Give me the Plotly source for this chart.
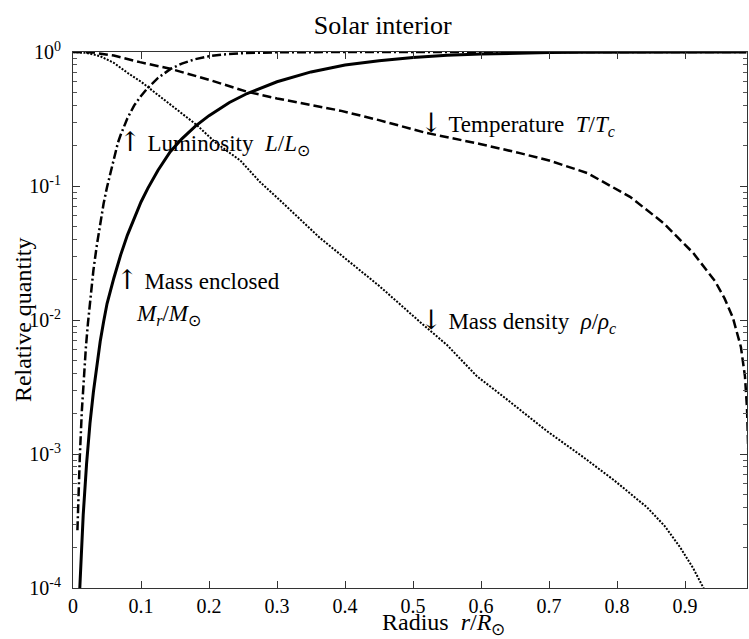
import plotly.graph_objects as go

# ---------------- data ----------------
r_mass = [0.010, 0.015, 0.020, 0.025, 0.030, 0.035, 0.040, 0.045, 0.050, 0.060, 0.070,
          0.080, 0.090, 0.100, 0.110, 0.125, 0.143, 0.160, 0.180, 0.200, 0.230, 0.256,
          0.300, 0.350, 0.400, 0.450, 0.500, 0.550, 0.600, 0.650, 0.700, 0.750, 0.800,
          0.900, 0.990]
mass = [1.0e-4, 3.5e-4, 8.5e-4, 1.7e-3, 2.9e-3, 4.6e-3, 6.9e-3, 9.7e-3, 0.0132, 0.0205, 0.0305,
        0.043, 0.058, 0.076, 0.096, 0.131, 0.18, 0.225, 0.28, 0.335, 0.42, 0.49,
        0.60, 0.71, 0.80, 0.86, 0.91, 0.945, 0.965, 0.98, 0.99, 0.995, 0.998,
        0.9995, 1.0]

r_lum = [0.0065, 0.008, 0.010, 0.013, 0.016, 0.019, 0.022, 0.026, 0.030, 0.035, 0.040,
         0.045, 0.050, 0.055, 0.060, 0.066, 0.070, 0.080, 0.090, 0.100, 0.110, 0.125,
         0.143, 0.160, 0.180, 0.200, 0.220, 0.250, 0.300, 0.350, 0.400, 0.990]
lum = [2.7e-4, 5.0e-4, 9.5e-4, 2.1e-3, 3.9e-3, 6.3e-3, 9.5e-3, 0.0155, 0.0235, 0.036, 0.053,
       0.074, 0.098, 0.125, 0.157, 0.21, 0.24, 0.32, 0.40, 0.47, 0.54, 0.64,
       0.745, 0.82, 0.885, 0.93, 0.958, 0.98, 0.995, 0.999, 1.0, 1.0]

r_temp = [0.0, 0.03, 0.06, 0.0985, 0.143, 0.200, 0.256, 0.300, 0.393, 0.450, 0.518,
          0.600, 0.657, 0.700, 0.756, 0.790, 0.819, 0.868, 0.912, 0.944, 0.958, 0.970,
          0.982, 0.988, 0.991, 0.993]
temp = [1.0, 0.99, 0.94, 0.84, 0.75, 0.62, 0.505, 0.45, 0.365, 0.31, 0.25,
        0.205, 0.176, 0.155, 0.125, 0.10, 0.083, 0.053, 0.0316, 0.0195, 0.0145, 0.0105,
        0.0063, 0.0038, 0.0022, 0.0010]

r_dens = [0.0, 0.02, 0.04, 0.06, 0.08, 0.10, 0.12, 0.15, 0.182, 0.21, 0.246, 0.275,
          0.30, 0.363, 0.40, 0.45, 0.515, 0.55, 0.594, 0.632, 0.697, 0.75, 0.795,
          0.844, 0.87, 0.893, 0.912, 0.927, 0.935]
dens = [1.0, 0.985, 0.93, 0.83, 0.70, 0.60, 0.50, 0.38, 0.285, 0.21, 0.155, 0.107,
        0.082, 0.041, 0.029, 0.018, 0.0092, 0.0065, 0.0038, 0.0027, 0.00148, 9.5e-4, 6.4e-4,
        4.0e-4, 2.9e-4, 2.0e-4, 1.4e-4, 1.0e-4, 8e-5]

x_ticks = [0, 0.1, 0.2, 0.3, 0.4, 0.5, 0.6, 0.7, 0.8, 0.9]
x_tick_labels = ["0", "0.1", "0.2", "0.3", "0.4", "0.5", "0.6", "0.7", "0.8", "0.9"]
y_ticks = [1e-4, 1e-3, 1e-2, 1e-1, 1]
y_tick_labels = ["10<sup>-4</sup>", "10<sup>-3</sup>", "10<sup>-2</sup>",
                 "10<sup>-1</sup>", "10<sup>0</sup>"]
y_minor = [k * 10.0 ** e for e in (-4, -3, -2, -1) for k in range(2, 10)]

FONT = "Liberation Serif, Times New Roman, serif"
NB = "\u00a0"
UP = '<span style="font-family:DejaVu Serif;font-size:27px">↑</span>'
DOWN = '<span style="font-family:DejaVu Serif;font-size:27px">↓</span>'

fig = go.Figure()
fig.add_trace(go.Scatter(x=r_dens, y=dens, mode="lines",
                         line=dict(color="black", width=2, dash="2px,1.5px")))
fig.add_trace(go.Scatter(x=r_temp, y=temp, mode="lines",
                         line=dict(color="black", width=2.5, dash="9px,4px")))
fig.add_trace(go.Scatter(x=r_lum, y=lum, mode="lines",
                         line=dict(color="black", width=2.5, dash="9px,3px,2px,3px")))
fig.add_trace(go.Scatter(x=r_mass, y=mass, mode="lines",
                         line=dict(color="black", width=3)))

ann_font = dict(family=FONT, size=23, color="black")
annotations = [
    dict(x=0.064, y=-0.679, text=UP + NB + "Luminosity" + NB + NB + "<i>L</i>/<i>L</i><sub>⊙</sub>"),
    dict(x=0.060, y=-1.70, text=UP + NB + "Mass enclosed"),
    dict(x=0.089, y=-1.96, text="<i>M<sub>r</sub></i>/<i>M</i><sub>⊙</sub>"),
    dict(x=0.507, y=-0.537, text=DOWN + NB + "Temperature" + NB + NB + "<i>T</i>/<i>T<sub>c</sub></i>"),
    dict(x=0.507, y=-2.0, text=DOWN + NB + "Mass density" + NB + NB + "<i>ρ</i>/<i>ρ<sub>c</sub></i>"),
]
for a in annotations:
    a.update(xref="x", yref="y", xanchor="left", yanchor="middle",
             showarrow=False, font=ann_font)

# axis titles as annotations (positioned like the reference)
annotations.append(dict(xref="paper", yref="paper", x=0.549, y=-0.068,
                        xanchor="center", yanchor="middle", showarrow=False,
                        text="Radius" + NB + NB + "<i>r</i>/<i>R</i><sub>⊙</sub>",
                        font=dict(family=FONT, size=24, color="black")))
annotations.append(dict(xref="paper", yref="paper", x=-0.074, y=0.5,
                        xanchor="center", yanchor="middle", showarrow=False,
                        textangle=-90, text="Relative quantity",
                        font=dict(family=FONT, size=24, color="black")))

fig.update_layout(
    width=749, height=639,
    margin=dict(l=73, r=2, t=52, b=51),
    paper_bgcolor="white", plot_bgcolor="white",
    showlegend=False,
    title=dict(text="Solar interior", xref="container", yref="container",
               x=0.511, y=0.961, xanchor="center", yanchor="middle",
               font=dict(family=FONT, size=26, color="black")),
    annotations=annotations,
    xaxis=dict(range=[0, 0.991], tickmode="array", tickvals=x_ticks, ticktext=x_tick_labels,
               ticks="inside", ticklen=7, tickcolor="#333", showline=True, linecolor="#333",
               linewidth=1, mirror="ticks", showgrid=False, zeroline=False,
               tickfont=dict(family=FONT, size=20, color="black")),
    yaxis=dict(type="log", range=[-4, 0], tickmode="array", tickvals=y_ticks,
               ticktext=y_tick_labels, ticks="inside", ticklen=7, tickcolor="#333",
               showline=True, linecolor="#333", linewidth=1, mirror="ticks",
               showgrid=False, zeroline=False, ticklabelstandoff=7,
               tickfont=dict(family=FONT, size=20, color="black"),
               minor=dict(tickmode="array", tickvals=y_minor, ticks="inside",
                          ticklen=4, tickcolor="#555", showgrid=False)),
)

# remove the default 8px page margin so the figure fills the window exactly
fig.write_html("out.html",
               config={"displayModeBar": False},
               post_script="document.body.style.margin='0';document.body.style.overflow='hidden';")
